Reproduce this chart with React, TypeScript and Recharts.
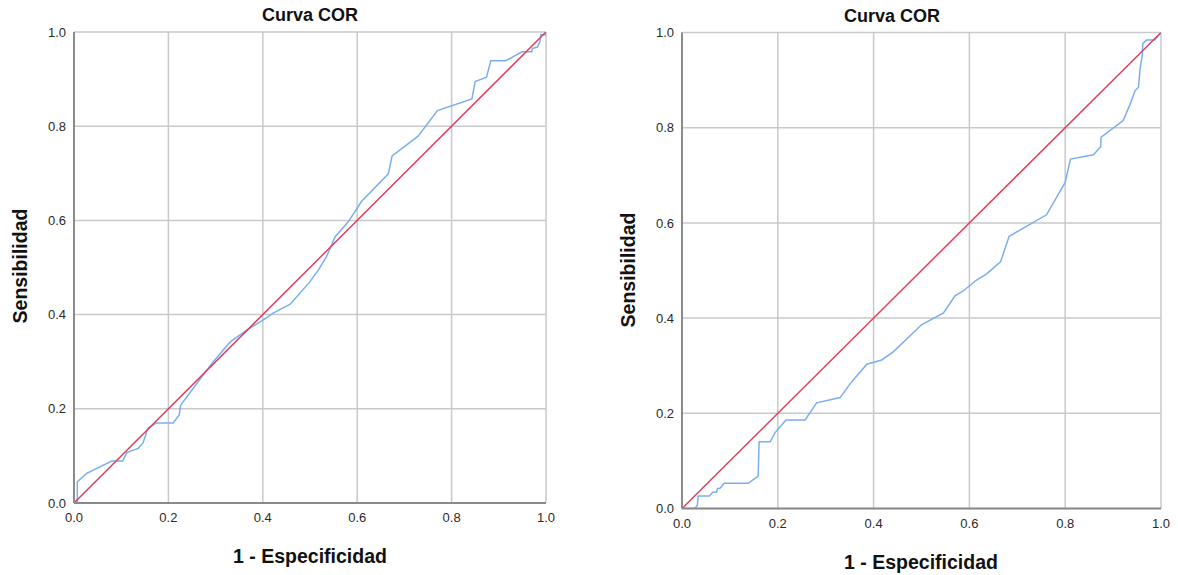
import React from 'react';
import { LineChart, Line, XAxis, YAxis, CartesianGrid } from 'recharts';

// Curva COR izquierda (1 - especificidad, sensibilidad)
const leftX = [0, 0.007, 0.007, 0.027, 0.08, 0.103, 0.112, 0.136, 0.146, 0.157, 0.175, 0.21, 0.223, 0.226, 0.295, 0.331, 0.366, 0.401, 0.422, 0.458, 0.5, 0.518, 0.535, 0.553, 0.581, 0.609, 0.666, 0.674, 0.729, 0.77, 0.843, 0.85, 0.874, 0.883, 0.915, 0.949, 0.97, 0.971, 0.982, 0.987, 0.989, 1.0, 1.0];
const leftY = [0, 0, 0.045, 0.063, 0.089, 0.089, 0.107, 0.116, 0.127, 0.159, 0.17, 0.17, 0.187, 0.208, 0.3, 0.342, 0.367, 0.389, 0.403, 0.422, 0.47, 0.495, 0.523, 0.565, 0.597, 0.64, 0.699, 0.737, 0.779, 0.833, 0.858, 0.895, 0.904, 0.939, 0.939, 0.958, 0.958, 0.965, 0.968, 0.979, 0.994, 0.994, 1.0];

// Curva COR derecha
const rightX = [0, 0.027, 0.032, 0.034, 0.057, 0.064, 0.072, 0.074, 0.079, 0.088, 0.138, 0.159, 0.161, 0.184, 0.194, 0.217, 0.257, 0.281, 0.33, 0.354, 0.386, 0.417, 0.441, 0.5, 0.546, 0.57, 0.587, 0.615, 0.636, 0.665, 0.683, 0.761, 0.8, 0.811, 0.859, 0.874, 0.875, 0.921, 0.935, 0.946, 0.953, 0.956, 0.961, 0.962, 0.97, 0.987, 1.0];
const rightY = [0, 0, 0.007, 0.026, 0.026, 0.034, 0.034, 0.042, 0.042, 0.053, 0.053, 0.068, 0.14, 0.14, 0.159, 0.186, 0.186, 0.222, 0.233, 0.266, 0.303, 0.312, 0.329, 0.386, 0.411, 0.447, 0.457, 0.48, 0.493, 0.518, 0.572, 0.617, 0.685, 0.734, 0.743, 0.76, 0.78, 0.815, 0.848, 0.878, 0.885, 0.921, 0.953, 0.977, 0.984, 0.984, 1.0];

const diagX = [0, 1];
const diagY = [0, 1];
const ticks = [0, 0.2, 0.4, 0.6, 0.8, 1.0];

const FONT = '"Liberation Sans", Arial, sans-serif';
const toPts = (xs: number[], ys: number[]) => xs.map((x, i) => ({ x, y: ys[i] }));

interface PanelProps {
  left: number;
  width: number;
  margin: { top: number; right: number; bottom: number; left: number };
  xs: number[];
  ys: number[];
}

const Panel = ({ left, width, margin, xs, ys }: PanelProps) => (
  <div style={{ position: 'absolute', left, top: 0 }}>
    <LineChart width={width} height={575} margin={margin}>
      <CartesianGrid stroke="#c9c9c9" strokeWidth={1.5} />
      <XAxis
        type="number"
        dataKey="x"
        domain={[0, 1]}
        ticks={ticks}
        tickFormatter={(v) => v.toFixed(1)}
        height={30}
        tickLine={false}
        tickMargin={4}
        axisLine={{ stroke: '#8a8a8a', strokeWidth: 2 }}
        tick={{ fontSize: 13, fill: '#2a2a2a', fontFamily: FONT }}
        allowDataOverflow
      />
      <YAxis
        type="number"
        dataKey="y"
        domain={[0, 1]}
        ticks={ticks}
        tickFormatter={(v) => v.toFixed(1)}
        width={40}
        tickLine={false}
        axisLine={{ stroke: '#8a8a8a', strokeWidth: 2 }}
        tick={{ fontSize: 13, fill: '#2a2a2a', fontFamily: FONT }}
        allowDataOverflow
      />
      <Line data={toPts(xs, ys)} dataKey="y" type="linear" stroke="#7aaef0" strokeWidth={1.5} dot={false} isAnimationActive={false} />
      <Line data={toPts(diagX, diagY)} dataKey="y" type="linear" stroke="#e0405f" strokeWidth={1.5} dot={false} isAnimationActive={false} />
    </LineChart>
  </div>
);

const textStyle: React.CSSProperties = {
  position: 'absolute',
  fontFamily: FONT,
  fontWeight: 'bold',
  fontSize: 19.5,
  color: '#111',
  whiteSpace: 'nowrap',
  transform: 'translate(-50%, -50%)',
};

const titleStyle: React.CSSProperties = { ...textStyle, fontSize: 18 };

export default function App() {
  return (
    <div style={{ position: 'absolute', left: 0, top: 0, width: 1178, height: 575, background: '#fff', overflow: 'hidden' }}>
      <Panel left={0} width={600} margin={{ top: 32, right: 54, bottom: 42, left: 34 }} xs={leftX} ys={leftY} />
      <Panel left={600} width={578} margin={{ top: 32.5, right: 17, bottom: 36.5, left: 42 }} xs={rightX} ys={rightY} />

      <div style={{ ...titleStyle, left: 310, top: 15 }}>Curva COR</div>
      <div style={{ ...titleStyle, left: 892, top: 16 }}>Curva COR</div>

      <div style={{ ...textStyle, left: 310, top: 556 }}>1 - Especificidad</div>
      <div style={{ ...textStyle, left: 921, top: 562 }}>1 - Especificidad</div>

      <div style={{ ...textStyle, left: 20, top: 266, transform: 'translate(-50%, -50%) rotate(-90deg)' }}>Sensibilidad</div>
      <div style={{ ...textStyle, left: 628, top: 270, transform: 'translate(-50%, -50%) rotate(-90deg)' }}>Sensibilidad</div>
    </div>
  );
}
